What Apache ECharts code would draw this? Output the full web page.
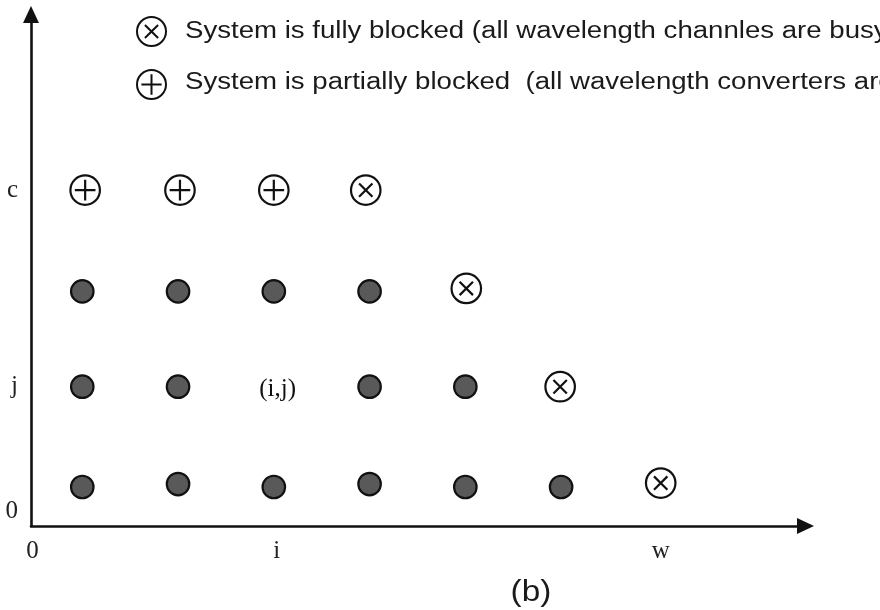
<!DOCTYPE html>
<html>
<head>
<meta charset="utf-8">
<script src="https://cdn.jsdelivr.net/npm/echarts@6/dist/echarts.min.js"></script>
<style>html,body{margin:0;padding:0;background:#fff;}#c{width:880px;height:610px;}</style>
</head>
<body>
<div id="c"></div>
<script>
// ---- data (grid coordinates) ----
const dotX = [1, 2, 3, 4, 5, 6, 1, 2, 4, 5, 1, 2, 3, 4];
const dotY = [0.98, 1.01, 0.98, 1.01, 0.98, 0.98, 2.0, 2.0, 2.0, 2.0, 2.97, 2.97, 2.97, 2.97];
const fullX = [3.96, 5.01, 5.99, 7.04];
const fullY = [4.0, 3.0, 2.0, 1.02];
const partialX = [1.03, 2.02, 3.0];
const partialY = [4.0, 4.0, 4.0];
const noteX = [3.04];
const noteY = [1.97];
const noteText = ['(i,j)'];
const xTickValues = [0.48, 3.03, 7.04];
const xTickLabels = ['0', 'i', 'w'];
const yTickValues = [0.736, 2.0, 4.0];
const yTickLabels = ['0', 'j', 'c'];
const seriesNames = ['System is fully blocked (all wavelength channles are busy)',
                     'System is partially blocked  (all wavelength converters are busy)'];
const caption = '(b)';

const zip = (xs, ys) => xs.map((x, i) => [x, ys[i]]);

const circlePath = 'M16,1A15,15,0,1,1,16,31A15,15,0,1,1,16,1Z';
const crossSym = 'path://' + circlePath + 'M9.2,9.2L22.8,22.8M22.8,9.2L9.2,22.8';
const plusSym = 'path://' + circlePath + 'M16,5.5L16,26.5M5.5,16L26.5,16';

const serif = "'Liberation Serif', 'Times New Roman', serif";
const sans = "'Liberation Sans', Arial, sans-serif";

const chart = echarts.init(document.getElementById('c'), null, {renderer: 'canvas'});
chart.setOption({
  animation: false,
  backgroundColor: '#ffffff',
  grid: {left: 31, right: 74.5, top: 14.5, bottom: 84, containLabel: false},
  xAxis: {
    type: 'value', min: 0.4645, max: 8.552,
    splitLine: {show: false},
    axisTick: {show: false},
    axisLine: {show: true, onZero: false, symbol: ['none', 'triangle'], symbolSize: [16, 17],
      lineStyle: {color: '#111', width: 2.6}},
    axisLabel: {
      customValues: xTickValues,
      formatter: v => xTickLabels[xTickValues.indexOf(v)],
      fontFamily: serif, fontSize: 25, color: '#222', margin: 13
    }
  },
  yAxis: {
    type: 'value', min: 0.583, max: 5.787,
    splitLine: {show: false},
    axisTick: {show: false},
    axisLine: {show: true, onZero: false, symbol: ['none', 'triangle'], symbolSize: [16, 17],
      lineStyle: {color: '#111', width: 2.6}},
    axisLabel: {
      customValues: yTickValues,
      formatter: v => yTickLabels[yTickValues.indexOf(v)],
      fontFamily: serif, fontSize: 25, color: '#222', margin: 13
    }
  },
  legend: {
    orient: 'vertical', left: 136, top: 16, padding: 0, itemGap: 22,
    itemWidth: 29, itemHeight: 29,
    data: seriesNames,
    formatter: () => '',
    textStyle: {fontSize: 10},
    selectedMode: false
  },
  series: [
    {
      type: 'scatter', name: 'dots', data: zip(dotX, dotY),
      symbol: 'circle', symbolSize: 22.5,
      itemStyle: {color: '#595959', borderColor: '#111', borderWidth: 2.2, opacity: 1}
    },
    {
      type: 'scatter', name: seriesNames[0], data: zip(fullX, fullY),
      symbol: crossSym, symbolSize: 29.5,
      itemStyle: {color: '#ffffff', borderColor: '#111', borderWidth: 2.2, opacity: 1}
    },
    {
      type: 'scatter', name: seriesNames[1], data: zip(partialX, partialY),
      symbol: plusSym, symbolSize: 29.5,
      itemStyle: {color: '#ffffff', borderColor: '#111', borderWidth: 2.2, opacity: 1}
    },
    {
      type: 'scatter', name: 'note', data: zip(noteX, noteY),
      symbol: 'circle', symbolSize: 1,
      itemStyle: {color: '#ffffff', borderWidth: 0, opacity: 1},
      label: {show: true, position: 'inside', formatter: p => noteText[p.dataIndex],
        fontFamily: serif, fontSize: 25, color: '#111', opacity: 1}
    }
  ],
  graphic: [
    {type: 'text', x: 185, y: 32, scaleX: 1.2, scaleY: 1,
      style: {text: seriesNames[0], font: '23px ' + sans, fill: '#1a1a1a', verticalAlign: 'middle', textAlign: 'left'}},
    {type: 'text', x: 185, y: 83, scaleX: 1.2, scaleY: 1,
      style: {text: seriesNames[1], font: '23px ' + sans, fill: '#1a1a1a', verticalAlign: 'middle', textAlign: 'left'}},
    {type: 'text', x: 531, y: 593, scaleX: 1.15, scaleY: 1,
      style: {text: caption, font: '29px ' + sans, fill: '#1a1a1a', verticalAlign: 'middle', textAlign: 'center'}}
  ]
});
</script>
</body>
</html>
